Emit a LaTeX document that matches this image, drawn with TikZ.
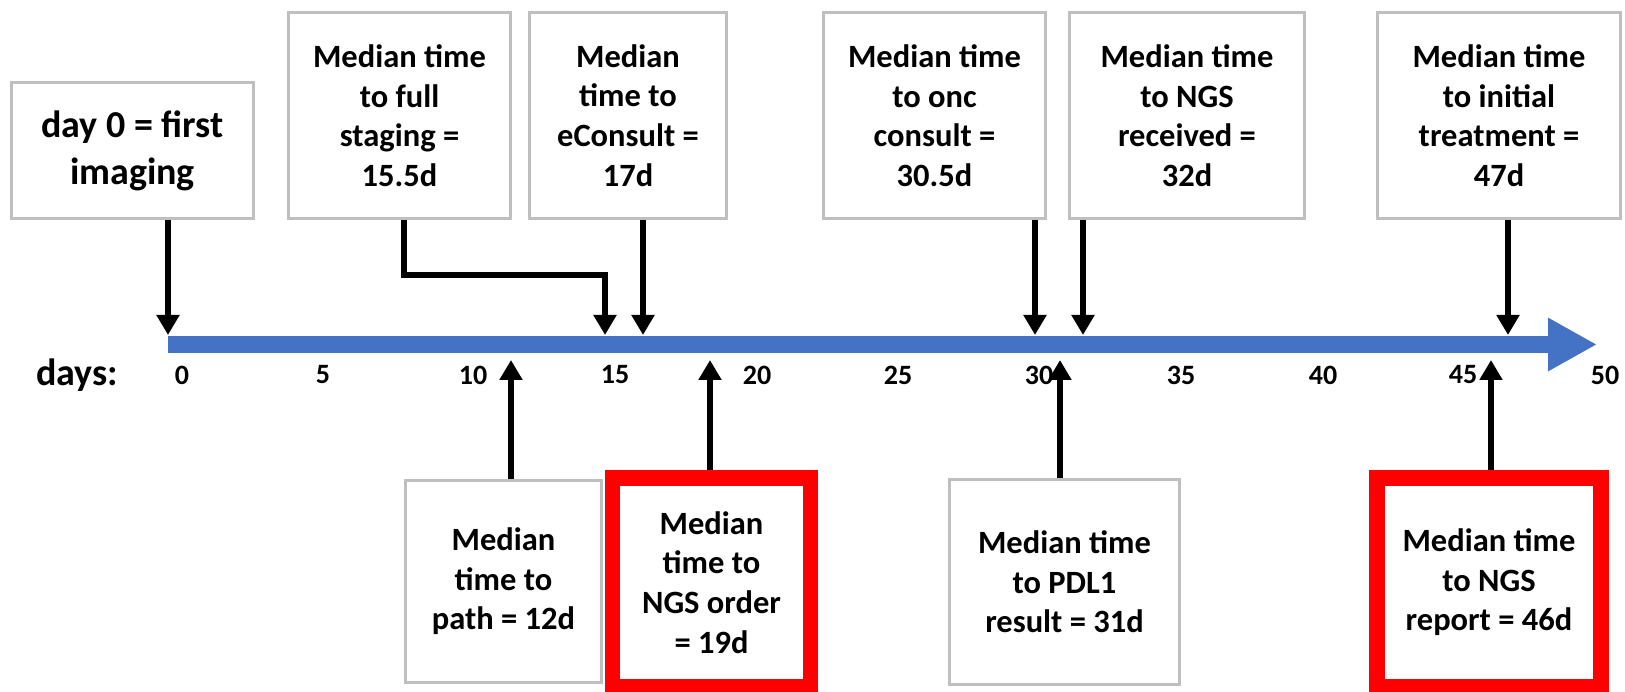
\documentclass[tikz,border=0pt]{standalone}
\usepackage{fontspec}
\setmainfont{Carlito}
\usetikzlibrary{arrows.meta}
\definecolor{boxgray}{RGB}{191,191,191}
\definecolor{boxred}{RGB}{255,0,0}
\definecolor{axblue}{RGB}{68,114,196}
\begin{document}
\begin{tikzpicture}[x=1pt,y=-1pt,
  gbox/.style={draw=boxgray, line width=3pt, fill=white, inner sep=0pt, align=center,
    font=\bfseries\fontsize{32.5}{39.6}\selectfont},
  rbox/.style={gbox, draw=boxred, line width=15.5pt},
  arr/.style={draw=black, line width=6pt, -{Triangle[width=22pt,length=20pt]}},
  axisline/.style={draw=axblue, line width=17pt, -{Triangle[width=50pt,length=49pt]}},
  ticklab/.style={font=\bfseries\fontsize{28}{30}\selectfont, inner sep=0pt}
]
\useasboundingbox (0,0) rectangle (1625,692);

% axis
\coordinate (axL) at (168,344.5);
\coordinate (axR) at (1597,344.5);
\draw[axisline] (axL) -- (axR);

% top boxes
\node[gbox, minimum width=242pt, minimum height=136pt,
  font=\bfseries\fontsize{38}{47}\selectfont] (day0) at (132.5,150.5) {day 0 = first\\imaging};
\node[gbox, minimum width=222pt, minimum height=206pt] (stg) at (399.5,115.5) {Median time\\to full\\staging =\\15.5d};
\node[gbox, minimum width=197pt, minimum height=206pt] (econ) at (628,115.5) {Median\\time to\\eConsult =\\17d};
\node[gbox, minimum width=222pt, minimum height=206pt] (onc) at (934.5,115.5) {Median time\\to onc\\consult =\\30.5d};
\node[gbox, minimum width=235pt, minimum height=206pt] (ngsr) at (1187,115.5) {Median time\\to NGS\\received =\\32d};
\node[gbox, minimum width=243pt, minimum height=206pt] (trt) at (1499,115.5) {Median time\\to initial\\treatment =\\47d};

% bottom boxes
\node[gbox, minimum width=196pt, minimum height=202pt] (path) at (503.5,581.5) {Median\\time to\\path = 12d};
\node[rbox, minimum width=198pt, minimum height=209pt] (ngso) at (711.5,582.5) {Median\\time to\\NGS order\\= 19d};
\node[gbox, minimum width=230pt, minimum height=205pt] (pdl) at (1064.5,582) {Median time\\to PDL1\\result = 31d};
\node[rbox, minimum width=224pt, minimum height=209pt] (ngsrep) at (1489,582.5) {Median time\\to NGS\\report = 46d};

% arrow targets
\coordinate (t0) at (168,335);
\coordinate (s1) at (404,275);
\coordinate (s2) at (605,335);
\coordinate (t17) at (643,335);
\coordinate (t30) at (1035,335);
\coordinate (t32) at (1083,335);
\coordinate (t47) at (1508,335);
\coordinate (b12) at (511,360);
\coordinate (b19) at (710,360);
\coordinate (b31) at (1060,360);
\coordinate (b46) at (1491,360);

\draw[arr] (day0.south -| t0) -- (t0);
\draw[arr] (stg.south -| s1) -- (s1) -| (s2);
\draw[arr] (econ.south -| t17) -- (t17);
\draw[arr] (onc.south -| t30) -- (t30);
\draw[arr] (ngsr.south -| t32) -- (t32);
\draw[arr] (trt.south -| t47) -- (t47);
\draw[arr] (path.north -| b12) -- (b12);
\draw[arr] (ngso.north -| b19) -- (b19);
\draw[arr] (pdl.north -| b31) -- (b31);
\draw[arr] (ngsrep.north -| b46) -- (b46);

% labels
\node[font=\bfseries\fontsize{38}{40}\selectfont, inner sep=0pt] (days) at (77,375) {days:};
\node[ticklab] (n0) at (182,375) {0};
\node[ticklab] (n5) at (323,375) {5};
\node[ticklab] (n10) at (473,375) {10};
\node[ticklab] (n15) at (615,375) {15};
\node[ticklab] (n20) at (757,375) {20};
\node[ticklab] (n25) at (898,375) {25};
\node[ticklab] (n30) at (1039,375) {30};
\node[ticklab] (n35) at (1181,375) {35};
\node[ticklab] (n40) at (1323,375) {40};
\node[ticklab] (n45) at (1463,375) {45};
\node[ticklab] (n50) at (1605,375) {50};
\end{tikzpicture}
\end{document}
